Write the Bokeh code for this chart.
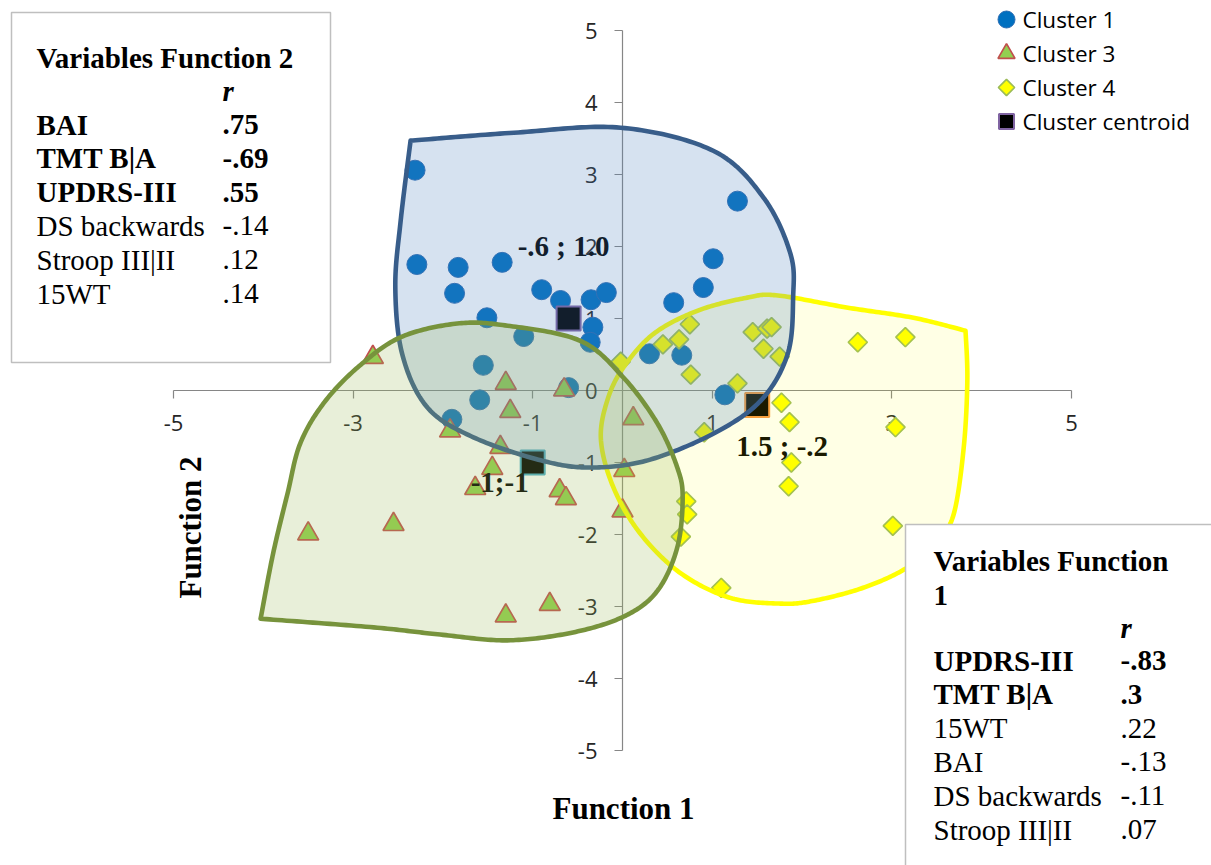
import math
from bokeh.plotting import figure
from bokeh.models import Range1d, LinearAxis, FixedTicker, ColumnDataSource
from bokeh.core.properties import value
from bokeh.embed import file_html
from bokeh.resources import INLINE

# ---------------------------------------------------------------------------
# Discriminant function scores per patient (Function 1, Function 2)
# ---------------------------------------------------------------------------
cluster1_f1 = [-2.31, 1.28, -2.29, -1.83, -1.34, 1.01, 0.90, -1.87, -0.90, -0.69,
               -0.35, -0.18, 0.57, -1.51, -0.33, -1.10, -0.36, 0.30, 0.66, -1.55,
               -0.60, 1.14, -1.59, -1.90]
cluster1_f2 = [3.06, 2.63, 1.75, 1.71, 1.78, 1.83, 1.43, 1.35, 1.40, 1.25,
               1.26, 1.36, 1.22, 1.01, 0.88, 0.75, 0.67, 0.51, 0.49, 0.35,
               0.04, -0.06, -0.13, -0.40]

cluster3_f1 = [-2.78, -1.30, -0.65, -1.25, -1.92, 0.12, -1.36, -1.45, 0.02, -1.64,
               -0.70, -0.63, 0.00, -2.55, -3.50, -0.81, -1.30]
cluster3_f2 = [0.46, 0.10, 0.01, -0.29, -0.56, -0.39, -0.79, -1.08, -1.11, -1.36,
               -1.39, -1.50, -1.67, -1.86, -1.99, -2.97, -3.13]

cluster4_f1 = [-0.02, 0.45, 0.63, 0.75, 0.76, 1.45, 1.61, 1.66, 1.57, 1.75,
               1.28, 1.77, 1.86, 3.04, 1.88, 1.85, 2.62, 3.15, 3.01, 0.71,
               0.72, 0.65, 1.10, 0.91]
cluster4_f2 = [0.40, 0.64, 0.71, 0.92, 0.22, 0.81, 0.86, 0.88, 0.58, 0.47,
               0.10, -0.17, -0.44, -0.51, -1.00, -1.33, 0.67, 0.74, -1.88, -1.54,
               -1.72, -2.03, -2.74, -0.58]

# Cluster centroids (clusters 1, 3, 4) and their labels
centroid_f1 = [-0.6, -1.0, 1.5]
centroid_f2 = [1.0, -1.0, -0.2]
centroid_labels = ["-.6 ; 1.0", "-1;-1", "1.5 ; -.2"]

# Axis ticks
x_tick_values = [-5, -3, -1, 1, 3, 5]
x_tick_labels = ["-5", "-3", "-1", "1", "3", "5"]
y_tick_values = [-5, -4, -3, -2, -1, 0, 1, 2, 3, 4, 5]
y_tick_labels = ["-5", "-4", "-3", "-2", "-1", "0", "1", "2", "3", "4", "5"]

legend_labels = ["Cluster 1", "Cluster 3", "Cluster 4", "Cluster centroid"]

# Structure coefficients (r) of each discriminant function
fn2_vars = ["BAI", "TMT B|A", "UPDRS-III", "DS backwards", "Stroop III|II", "15WT"]
fn2_r = [".75", "-.69", ".55", "-.14", ".12", ".14"]
fn2_bold = [True, True, True, False, False, False]

fn1_vars = ["UPDRS-III", "TMT B|A", "15WT", "BAI", "DS backwards", "Stroop III|II"]
fn1_r = ["-.83", ".3", ".22", "-.13", "-.11", ".07"]
fn1_bold = [True, True, False, False, False, False]

# Hand-drawn regions enclosing each cluster (outline vertices, first one is a corner)
cluster1_region_x = [-2.36, -1.21, -0.02, 1.01, 1.57, 1.87, 1.90, 1.84, 1.54, 1.01,
                     0.28, -0.36, -0.91, -1.66, -2.17, -2.45, -2.53, -2.47]
cluster1_region_y = [3.47, 3.58, 3.65, 3.33, 2.68, 1.90, 1.29, 0.51, -0.14, -0.60,
                     -0.97, -1.07, -0.97, -0.65, -0.24, 0.49, 1.43, 2.36]

cluster3_region_x = [-4.03, -2.77, -2.03, -1.28, -0.55, 0.03, 0.39, 0.61, 0.67, 0.61,
                     0.39, 0.01, -0.47, -1.28, -1.84, -2.47, -2.95, -3.33, -3.59,
                     -3.73, -3.89]
cluster3_region_y = [-3.17, -3.29, -3.39, -3.47, -3.36, -3.13, -2.78, -2.18, -1.49, -1.07,
                     -0.46, 0.18, 0.69, 0.90, 0.93, 0.74, 0.32, -0.18, -0.74,
                     -1.43, -2.26]

cluster4_region_x = [3.82, 3.84, 3.80, 3.69, 3.51, 3.17, 2.68, 2.13, 1.76, 1.20,
                     0.65, 0.20, -0.10, -0.24, -0.17, 0.01, 0.35, 0.84, 1.39, 1.73,
                     2.51, 3.24]
cluster4_region_y = [0.83, 0.14, -0.79, -1.71, -2.08, -2.46, -2.74, -2.92, -2.96, -2.88,
                     -2.54, -1.99, -1.35, -0.69, -0.14, 0.32, 0.79, 1.11, 1.29, 1.32,
                     1.15, 1.01]

# ---------------------------------------------------------------------------
# Canvas geometry: the frame fills the whole canvas; helpers convert pixel
# positions (from the top-left corner) to data units for annotations.
# ---------------------------------------------------------------------------
W, H = 1211, 865
ORIGIN_X, ORIGIN_Y = 622, 390
PX_PER_X, PX_PER_Y = 89.8, 72.0


def dx(px):
    return (px - ORIGIN_X) / PX_PER_X


def dy(py):
    return (ORIGIN_Y - py) / PX_PER_Y


def smooth_outline(xs, ys, steps=24):
    """Catmull-Rom curve through the outline, starting and ending at the corner."""
    px = [xs[0]] + list(xs) + [xs[0], xs[0]]
    py = [ys[0]] + list(ys) + [ys[0], ys[0]]
    ox, oy = [], []
    for i in range(1, len(px) - 2):
        for k in range(steps):
            t = k / steps
            t2, t3 = t * t, t * t * t

            def cr(a0, a1, a2, a3):
                return 0.5 * (2 * a1 + (-a0 + a2) * t + (2 * a0 - 5 * a1 + 4 * a2 - a3) * t2
                              + (-a0 + 3 * a1 - 3 * a2 + a3) * t3)

            ox.append(cr(px[i - 1], px[i], px[i + 1], px[i + 2]))
            oy.append(cr(py[i - 1], py[i], py[i + 1], py[i + 2]))
    ox.append(xs[0])
    oy.append(ys[0])
    return ox, oy


p = figure(width=W, height=H,
           x_range=Range1d(dx(0), dx(W)), y_range=Range1d(dy(H), dy(0)),
           output_backend="svg", toolbar_location=None,
           x_axis_location=None, y_axis_location=None,
           min_border=0, outline_line_color=None,
           background_fill_color="white", border_fill_color="white")
p.grid.visible = False

TICK_FONT = "Open Sans"
SERIF = "Liberation Serif"
AXIS_GRAY = "#868686"

# Crossing axes through the origin
xaxis = LinearAxis(fixed_location=0, ticker=FixedTicker(ticks=x_tick_values),
                   bounds=(-5, 5),
                   major_label_overrides=dict(zip(x_tick_values, x_tick_labels)))
yaxis = LinearAxis(fixed_location=0, ticker=FixedTicker(ticks=y_tick_values),
                   bounds=(-5, 5),
                   major_label_overrides=dict(zip(y_tick_values, y_tick_labels)))
for ax, standoff in ((xaxis, 16), (yaxis, 17)):
    ax.level = "underlay"
    ax.axis_line_color = AXIS_GRAY
    ax.axis_line_width = 1.2
    ax.major_tick_line_color = AXIS_GRAY
    ax.major_tick_line_width = 1.2
    ax.major_tick_out = 8
    ax.major_tick_in = 0
    ax.minor_tick_line_color = None
    ax.major_label_text_font = TICK_FONT
    ax.major_label_text_font_size = "22px"
    ax.major_label_text_color = "#262626"
    ax.major_label_standoff = standoff
p.add_layout(xaxis, "below")
p.add_layout(yaxis, "left")

# Patient scores
p.scatter(cluster1_f1, cluster1_f2, marker="circle", size=20,
          fill_color="#0070C0", line_color="#2C6DB3", line_width=1)
p.scatter(cluster3_f1, cluster3_f2, marker="triangle", size=21,
          fill_color="#92D050", line_color="#C0504D", line_width=1.7)
p.scatter(cluster4_f1, cluster4_f2, marker="square", angle=math.pi / 4, size=13.5,
          fill_color="#FFFF00", line_color="#9BBB59", line_width=1.7)

# Centroids
centroid_src = ColumnDataSource(dict(
    x=centroid_f1, y=centroid_f2, label=centroid_labels,
    edge=["#8064A2", "#4BACC6", "#F79646"],
    xo=[-5, -33, 25], yo=[-73, 19, 41],
))
p.scatter("x", "y", source=centroid_src, marker="square", size=24,
          fill_color="#000000", line_color="edge", line_width=2)
p.text("x", "y", text="label", source=centroid_src, x_offset="xo", y_offset="yo",
       text_font=value(SERIF), text_font_size=value("29px"), text_font_style="bold",
       text_align="center", text_baseline="middle", text_color="#000000")

# Cluster regions, drawn translucently over the points
for rx, ry, fill, alpha, edge in (
        (cluster4_region_x, cluster4_region_y, "#FFFF00", 0.10, "#FFFF00"),
        (cluster1_region_x, cluster1_region_y, "#4F81BD", 0.23, "#385D8A"),
        (cluster3_region_x, cluster3_region_y, "#9BBB59", 0.23, "#77933C")):
    sx, sy = smooth_outline(rx, ry)
    p.patch(sx, sy, fill_color=fill, fill_alpha=alpha, line_color=edge, line_width=4.6,
            line_join="round")

# Legend
leg_x = dx(1006)
leg_rows = [dy(19), dy(53), dy(87), dy(121)]
p.scatter([leg_x], [leg_rows[0]], marker="circle", size=17,
          fill_color="#0070C0", line_color="#2C6DB3", line_width=1)
p.scatter([leg_x], [leg_rows[1]], marker="triangle", size=17,
          fill_color="#92D050", line_color="#C0504D", line_width=1.7)
p.scatter([leg_x], [leg_rows[2]], marker="square", angle=math.pi / 4, size=11.5,
          fill_color="#FFFF00", line_color="#9BBB59", line_width=1.7)
p.scatter([leg_x], [leg_rows[3]], marker="square", size=15,
          fill_color="#000000", line_color="#8064A2", line_width=2)
p.text([dx(1022)] * 4, leg_rows, text=legend_labels,
       text_font=value(TICK_FONT), text_font_size=value("22.5px"),
       text_align="left", text_baseline="middle", text_color="#000000")


def text_block(x0, xv, title_lines, title_y, r_y, first_row_y, names, vals, bold):
    for i, line in enumerate(title_lines):
        p.text([dx(x0)], [dy(title_y + 35 * i)], text=[line],
               text_font=value(SERIF), text_font_size=value("29px"),
               text_font_style="bold", text_align="left", text_baseline="middle",
               text_color="#000000")
    p.text([dx(xv)], [dy(r_y)], text=["r"],
           text_font=value(SERIF), text_font_size=value("29px"),
           text_font_style="bold italic", text_align="left", text_baseline="middle",
           text_color="#000000")
    for i, (name, val, b) in enumerate(zip(names, vals, bold)):
        yy = dy(first_row_y + 33.8 * i)
        style = "bold" if b else "normal"
        p.text([dx(x0), dx(xv)], [yy, yy], text=[name, val],
               text_font=value(SERIF), text_font_size=value("29px"),
               text_font_style=style, text_align="left", text_baseline="middle",
               text_color="#000000")


# Coefficient boxes
p.quad(left=[dx(11)], right=[dx(330)], top=[dy(12)], bottom=[dy(362)],
       fill_color="white", line_color="#BFBFBF", line_width=1.5)
text_block(36, 222, ["Variables Function 2"], 57, 90, 124, fn2_vars, fn2_r, fn2_bold)

p.quad(left=[dx(905)], right=[dx(1240)], top=[dy(524)], bottom=[dy(900)],
       fill_color="white", line_color="#BFBFBF", line_width=1.5)
text_block(933, 1120, ["Variables Function", "1"], 560, 627, 660, fn1_vars, fn1_r, fn1_bold)

# Axis titles
p.text([dx(623)], [dy(808)], text=["Function 1"],
       text_font=value(SERIF), text_font_size=value("31px"), text_font_style="bold",
       text_align="center", text_baseline="middle", text_color="#000000")
p.text([dx(190)], [dy(527)], text=["Function 2"], angle=math.pi / 2,
       text_font=value(SERIF), text_font_size=value("31px"), text_font_style="bold",
       text_align="center", text_baseline="middle", text_color="#000000")

open("out.html", "w").write(file_html(p, INLINE))
